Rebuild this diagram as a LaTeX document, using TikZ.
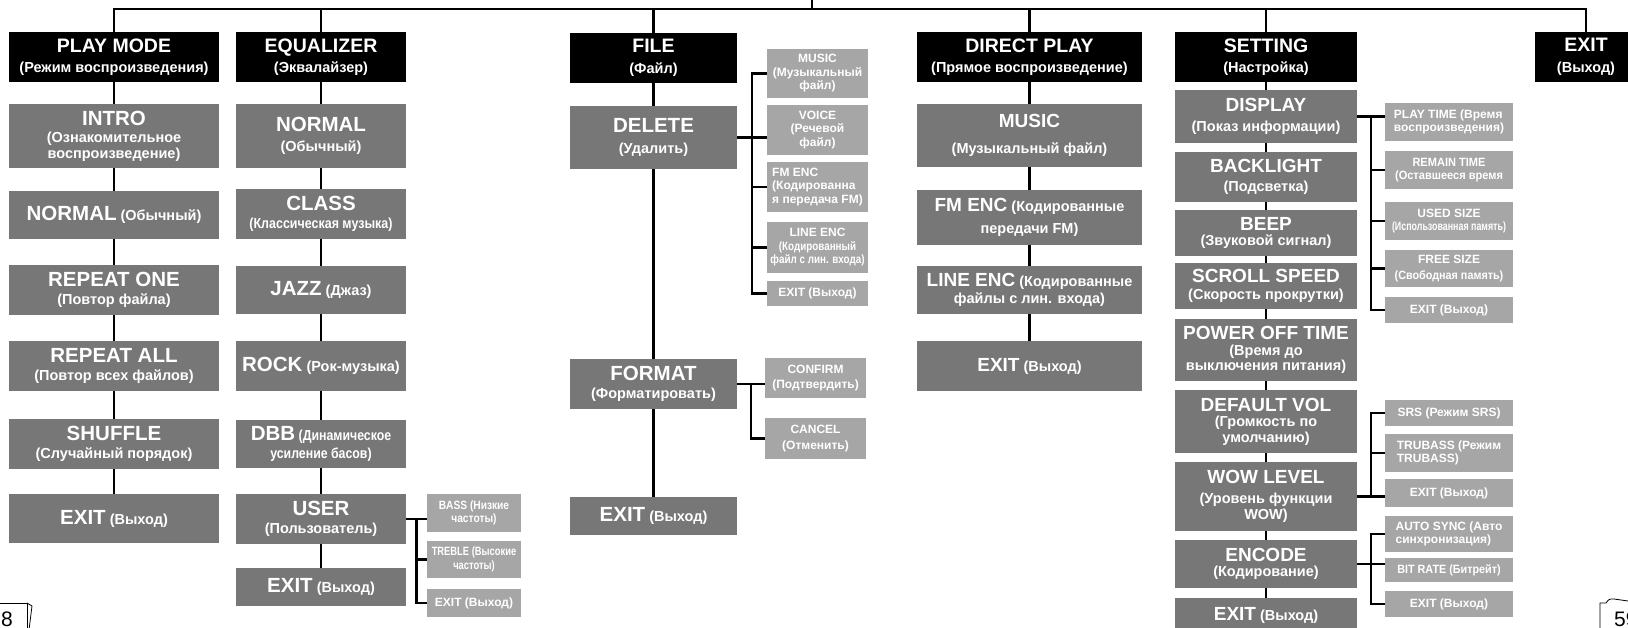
\documentclass[tikz,border=0pt]{standalone}
\usepackage{fontspec}
\setmainfont{Liberation Sans}
\usetikzlibrary{calc}
\definecolor{itemgray}{HTML}{777777}
\definecolor{optgray}{HTML}{A6A6A6}
\newcommand{\headfont}{\fontsize{19.5}{20}\selectfont}
\newcommand{\titlefont}{\fontsize{20.5}{20}\selectfont}
\newcommand{\rtitlefont}{\fontsize{19}{19}\selectfont}
\newcommand{\squeeze}[2][0.85]{\scalebox{#1}[1]{#2}}
\tikzset{
  hdbox/.style={fill=black, text=white, align=center, inner sep=1pt,
                font=\bfseries\fontsize{14.5}{19.5}\selectfont},
  itembox/.style={fill=itemgray, text=white, align=center, inner sep=1pt,
                  font=\bfseries\fontsize{14.5}{15.5}\selectfont},
  optbox/.style={fill=optgray, text=white, align=center, inner sep=2pt,
                 font=\bfseries\fontsize{12}{13.5}\selectfont},
  sz/.style 2 args={minimum width=#1pt, minimum height=#2pt},
  link/.style={draw=black, line width=2.5pt},
  pagemark/.style={draw=black, line width=0.8pt}
}

\begin{document}
\begin{tikzpicture}[x=1pt,y=-1pt]
  \useasboundingbox (0,0) rectangle (1628,628);
  \clip (0,0) rectangle (1628,628);

  % top level menu
  \node[hdbox,sz={210}{50}] (pm) at (114,57) {{\headfont PLAY MODE}\\(Режим воспроизведения)};
  \node[hdbox,sz={170}{50}] (eq) at (321,57) {{\headfont EQUALIZER}\\(Эквалайзер)};
  \node[hdbox,sz={167}{50}] (file) at (653.5,58) {{\headfont FILE}\\[2pt](Файл)};
  \node[hdbox,sz={225}{50}] (dp) at (1029.5,57) {{\headfont DIRECT PLAY}\\(Прямое воспроизведение)};
  \node[hdbox,sz={182}{50}] (set) at (1266,57) {{\headfont SETTING}\\(Настройка)};
  \node[hdbox,sz={102}{50}] (ex) at (1586,57) {{\headfont EXIT}\\[2pt](Выход)};

  % play mode
  \node[itembox,sz={210}{64}] (intro) at (114,136) {{\titlefont INTRO}\\[2pt](Ознакомительное\\воспроизведение)};
  \node[itembox,sz={210}{48}] (pmnormal) at (114,215) {{\titlefont NORMAL} (Обычный)};
  \node[itembox,sz={210}{50}] (rone) at (114,290) {{\titlefont REPEAT ONE}\\[3pt](Повтор файла)};
  \node[itembox,sz={210}{50}] (rall) at (114,366) {{\titlefont REPEAT ALL}\\[3pt](Повтор всех файлов)};
  \node[itembox,sz={210}{50}] (shuffle) at (114,444) {{\titlefont SHUFFLE}\\[3pt](Случайный порядок)};
  \node[itembox,sz={210}{49}] (pmexit) at (114,518.5) {{\titlefont EXIT} (Выход)};

  % equalizer
  \node[itembox,sz={170}{64}] (eqnormal) at (321,136) {{\titlefont NORMAL}\\[4pt](Обычный)};
  \node[itembox,sz={170}{50}] (class) at (321,214) {{\titlefont CLASS}\\[2pt]\squeeze[0.86]{(Классическая музыка)}};
  \node[itembox,sz={170}{48}] (jazz) at (321,290) {{\titlefont JAZZ} (Джаз)};
  \node[itembox,sz={170}{50}] (rock) at (321,366) {{\titlefont ROCK} (Рок-музыка)};
  \node[itembox,sz={170}{48}] (dbb) at (321,444) {{\titlefont DBB}\squeeze{ (Динамическое}\\[3pt]\squeeze{усиление басов)}};
  \node[itembox,sz={170}{50}] (user) at (321,519) {{\titlefont USER}\\[3pt](Пользователь)};
  \node[itembox,sz={170}{38}] (eqexit) at (321,587) {{\titlefont EXIT} (Выход)};
  \node[optbox,sz={94}{38}] (bass) at (474,513) {\squeeze{BASS (Низкие}\\\squeeze{частоты)}};
  \node[optbox,sz={94}{37}] (treble) at (474,559.5) {\squeeze[0.78]{TREBLE (Высокие}\\\squeeze[0.78]{частоты)}};
  \node[optbox,sz={94}{28}] (uexit) at (474,603) {EXIT (Выход)};

  % file
  \node[itembox,sz={167}{63}] (delete) at (653.5,137.5) {{\titlefont DELETE}\\[6pt](Удалить)};
  \node[itembox,sz={167}{50}] (format) at (653.5,384) {{\titlefont FORMAT}\\[2pt](Форматировать)};
  \node[itembox,sz={167}{38}] (fexit) at (653.5,516) {{\titlefont EXIT} (Выход)};
  \node[optbox,sz={101}{49}] (music) at (817.5,73.5) {MUSIC\\(Музыкальный\\файл)};
  \node[optbox,sz={101}{50}] (voice) at (817.5,130) {VOICE\\(Речевой\\файл)};
  \node[optbox,sz={101}{50},align=left] (fmenc) at (817.5,187) {FM ENC\\(Кодированна\\я передача FM)};
  \node[optbox,sz={101}{51}] (lineenc) at (817.5,247.5) {LINE ENC\\\squeeze[0.82]{(Кодированный}\\\squeeze[0.82]{файл с лин. входа)}};
  \node[optbox,sz={101}{25}] (dexit) at (817.5,293.5) {EXIT (Выход)};
  \node[optbox,sz={101}{40}] (confirm) at (815.5,378) {CONFIRM\\[2pt](Подтвердить)};
  \node[optbox,sz={101}{41}] (cancel) at (815.5,438.5) {CANCEL\\[2pt](Отменить)};

  % direct play
  \node[itembox,sz={225}{63}] (dpmusic) at (1029.5,135.5) {{\rtitlefont MUSIC}\\[10pt](Музыкальный файл)};
  \node[itembox,sz={225}{55}] (dpfm) at (1029.5,217.5) {{\rtitlefont FM ENC} (Кодированные\\[6pt]передачи FM)};
  \node[itembox,sz={225}{48}] (dpline) at (1029.5,290) {{\rtitlefont LINE ENC} (Кодированные\\[2pt]файлы с лин. входа)};
  \node[itembox,sz={225}{50}] (dpexit) at (1029.5,366) {{\rtitlefont EXIT} (Выход)};

  % setting
  \node[itembox,sz={182}{53}] (display) at (1266,116.5) {{\rtitlefont DISPLAY}\\[4pt](Показ информации)};
  \node[itembox,sz={182}{50}] (backlight) at (1266,177) {{\rtitlefont BACKLIGHT}\\[3pt](Подсветка)};
  \node[itembox,sz={182}{46}] (beep) at (1266,233) {{\rtitlefont BEEP}\\(Звуковой сигнал)};
  \node[itembox,sz={182}{46}] (scroll) at (1266,286) {{\rtitlefont SCROLL SPEED}\\[1pt](Скорость прокрутки)};
  \node[itembox,sz={182}{62}] (poweroff) at (1266,350) {{\rtitlefont POWER OFF TIME}\\(Время до\\выключения питания)};
  \node[itembox,sz={182}{63}] (defvol) at (1266,421.5) {{\rtitlefont DEFAULT VOL}\\(Громкость по\\умолчанию)};
  \node[itembox,sz={182}{69}] (wow) at (1266,496.5) {{\rtitlefont WOW LEVEL}\\[4pt](Уровень функции\\[1pt]WOW)};
  \node[itembox,sz={182}{48}] (encode) at (1266,564) {{\rtitlefont ENCODE}\\(Кодирование)};
  \node[itembox,sz={182}{34}] (sexit) at (1266,615) {{\rtitlefont EXIT} (Выход)};
  \node[optbox,sz={128}{38},align=left] (playtime) at (1449,122) {PLAY TIME (Время\\воспроизведения)};
  \node[optbox,sz={128}{38}] (remain) at (1449,170) {\squeeze[0.92]{REMAIN TIME}\\\squeeze[0.92]{(Оставшееся время}};
  \node[optbox,sz={128}{38}] (used) at (1449,221) {USED SIZE\\\squeeze[0.74]{(Использованная память)}};
  \node[optbox,sz={128}{37}] (free) at (1449,268.5) {FREE SIZE\\[2pt]\squeeze[0.9]{(Свободная память)}};
  \node[optbox,sz={128}{26}] (dispexit) at (1449,310) {EXIT (Выход)};
  \node[optbox,sz={128}{26}] (srs) at (1449,413) {SRS (Режим SRS)};
  \node[optbox,sz={128}{38},align=left] (trubass) at (1449,453) {TRUBASS (Режим\\TRUBASS)};
  \node[optbox,sz={128}{28}] (wowexit) at (1449,493) {EXIT (Выход)};
  \node[optbox,sz={128}{36},align=left] (autosync) at (1449,534) {AUTO SYNC (Авто\\синхронизация)};
  \node[optbox,sz={128}{24}] (bitrate) at (1449,570) {\squeeze[0.9]{BIT RATE (Битрейт)}};
  \node[optbox,sz={128}{26}] (encexit) at (1449,604) {EXIT (Выход)};

  % top bar
  \coordinate (feed) at (812,0);
  \coordinate (hub) at (812,9);
  \draw[link] (feed) -- (hub);
  \draw[link] (pm.north) |- (hub) -| (ex.north);
  \foreach \n in {eq,file,dp,set}
    {\draw[link] (\n.north) -- (\n.north |- hub);}

  % column links
  \foreach \a/\b in {pm/intro,intro/pmnormal,pmnormal/rone,rone/rall,rall/shuffle,shuffle/pmexit,
                     eq/eqnormal,eqnormal/class,class/jazz,jazz/rock,rock/dbb,dbb/user,user/eqexit,
                     file/delete,delete/format,format/fexit,
                     dp/dpmusic,dpmusic/dpfm,dpfm/dpline,dpline/dpexit,
                     set/display,display/backlight,backlight/beep,beep/scroll,scroll/poweroff,
                     poweroff/defvol,defvol/wow,wow/encode,encode/sexit}
    {\draw[link] (\a.south) -- (\b.north);}

  % option brackets
  \draw[link] (user.east) -- (bass.west |- user.east);
  \coordinate (uspine) at ($(user.east)!0.5!(bass.west |- user.east)$);
  \foreach \n in {treble,uexit} {\draw[link] (uspine) |- (\n.west);}

  \draw[link] (delete.east) -- (voice.west |- delete.east);
  \coordinate (dspine) at ($(delete.east)!0.5!(voice.west |- delete.east)$);
  \foreach \n in {music,fmenc,lineenc,dexit} {\draw[link] (dspine) |- (\n.west);}

  \draw[link] (format.east) -- (confirm.west |- format.east);
  \coordinate (fspine) at ($(format.east)!0.5!(confirm.west |- format.east)$);
  \draw[link] (fspine) |- (cancel.west);

  \draw[link] (display.east) -- (playtime.west |- display.east);
  \coordinate (sspine) at ($(display.east)!0.5!(playtime.west |- display.east)$);
  \foreach \n in {remain,used,free,dispexit} {\draw[link] (sspine) |- (\n.west);}

  \draw[link] (wow.east) -- (wowexit.west |- wow.east);
  \coordinate (wspine) at ($(wow.east)!0.5!(wowexit.west |- wow.east)$);
  \foreach \n in {srs,trubass} {\draw[link] (wspine) |- (\n.west);}

  \draw[link] (encode.east) -- (bitrate.west |- encode.east);
  \coordinate (espine) at ($(encode.east)!0.5!(bitrate.west |- encode.east)$);
  \foreach \n in {autosync,encexit} {\draw[link] (espine) |- (\n.west);}

  % page corners
  \draw[pagemark] (0,603) -- (27,603) -- (27,630);
  \draw[pagemark] (27,603) -- (32,606) -- (29,630);
  \node[font=\fontsize{21}{21}\selectfont, anchor=west, inner sep=0pt] (pgl) at (1,619) {8};
  \draw[pagemark] (1600,630) -- (1600,603) -- (1606,603) .. controls (1609,599) .. (1614,599) -- (1628,601);
  \node[font=\fontsize{21}{21}\selectfont, anchor=west, inner sep=0pt] (pgr) at (1614,619) {59};
\end{tikzpicture}
\end{document}
